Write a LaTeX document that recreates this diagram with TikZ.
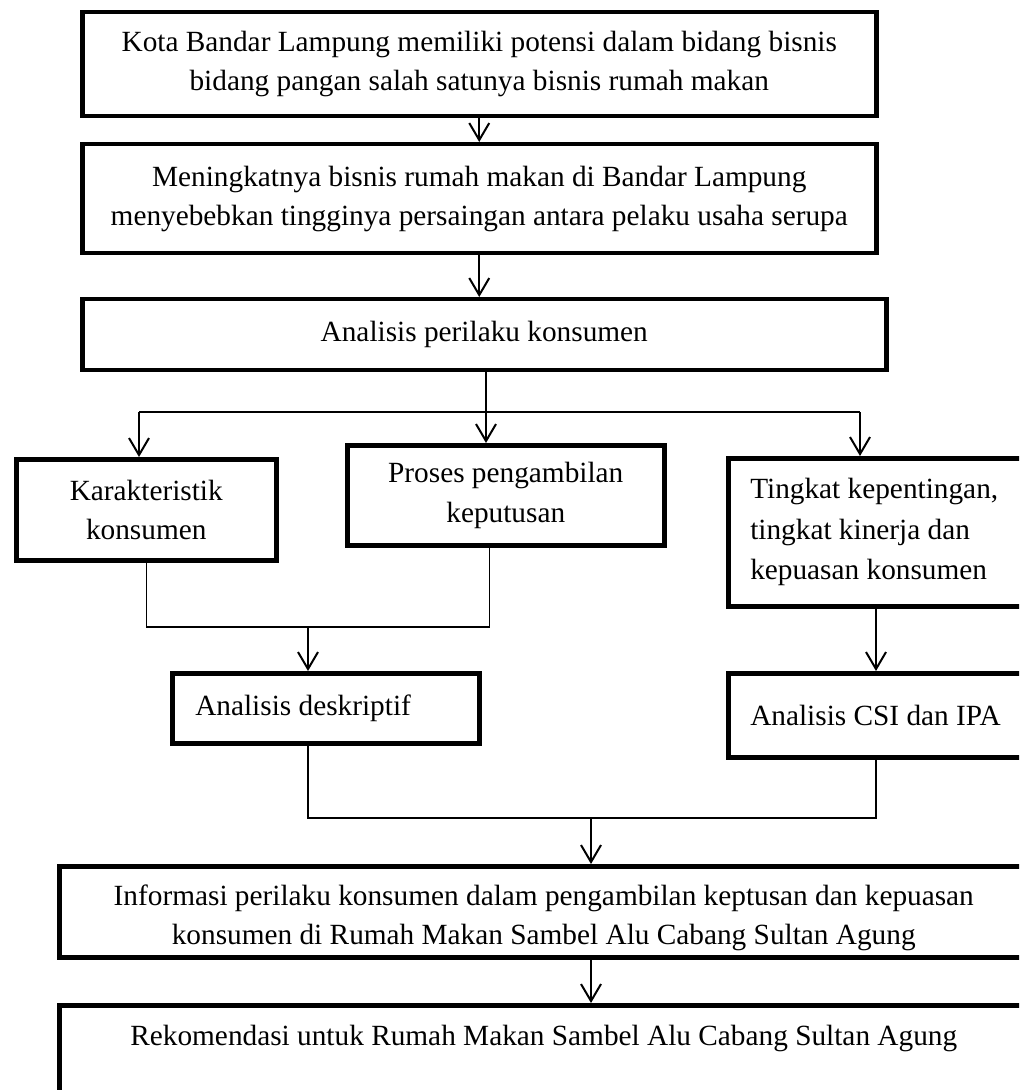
\documentclass[tikz,border=0pt]{standalone}
\usepackage{fontspec}
\setmainfont{Liberation Serif}
\usetikzlibrary{positioning,arrows.meta}

\begin{document}
\begin{tikzpicture}[
x=0.5pt, y=-0.5pt,
>={Straight Barb[length=8.5pt,width=10pt]},
kotak/.style={rectangle, draw=black, line width=2.25pt, anchor=north west, align=center, inner sep=0pt, font=\fontsize{14.65pt}{19.75pt}\selectfont},
kotakkiri/.style={kotak, align=flush left, inner xsep=11pt},
panah/.style={line width=1pt, ->},
garis/.style={line width=0.65pt}
]
\useasboundingbox (0,0) rectangle (1019,1090);
\clip (0,0) rectangle (1019,1090);

%Nodes
\node[kotak, minimum width=397pt, minimum height=52pt]		(kota)			at (80,10)		{Kota Bandar Lampung memiliki potensi dalam bidang bisnis\\ bidang pangan salah satunya bisnis rumah makan};
\node[kotak, minimum width=397pt, minimum height=54.5pt]	(bisnis)		at (80,142)		{Meningkatnya bisnis rumah makan di Bandar Lampung\\ menyebebkan tingginya persaingan antara pelaku usaha serupa};
\node[kotak, minimum width=402pt, minimum height=35.5pt]	(perilaku)		at (80,297)		{Analisis perilaku konsumen};
\node[kotak, minimum width=130pt, minimum height=50.5pt]	(karakteristik)	at (14,457)		{Karakteristik\\ konsumen};
\node[kotak, minimum width=158.5pt, minimum height=50pt]	(proses)		at (345,443)	{Proses pengambilan\\ keputusan};
\node[kotakkiri, text width=150pt, minimum height=74pt, font=\fontsize{14.65pt}{20.25pt}\selectfont]	(tingkat)	at (726,456)	{Tingkat kepentingan,\\ tingkat kinerja dan\\ kepuasan konsumen};
\node[kotakkiri, inner xsep=11.5pt, text width=130.5pt, minimum height=35pt]	(deskriptif)	at (170,671)	{Analisis deskriptif};
\node[kotakkiri, text width=150pt, minimum height=42pt]		(csi)			at (726,671)	{Analisis CSI dan IPA};
\node[kotak, align=flush center, text width=484.5pt, minimum height=45.5pt, text height=10pt, text depth=16.5pt]	(informasi)	at (57,864)	{Informasi perilaku konsumen dalam pengambilan keptusan dan kepuasan\\ konsumen di Rumah Makan Sambel Alu Cabang Sultan Agung};
\node[kotak, minimum width=484.5pt, text height=20pt, text depth=60pt]	(rekomendasi)	at (57,1003)	{Rekomendasi untuk Rumah Makan Sambel Alu Cabang Sultan Agung};

\coordinate (cabang)		at (486,412);
\coordinate (kiri)			at (139,412);
\coordinate (kanan)			at (860,412);
\coordinate (lurus)			at (876,630);
\coordinate (gabung)		at (308,627);
\coordinate (gabungbawah)	at (591,818);
\coordinate (prosesbawah)	at ([xshift=-8.25pt]proses.south);

%Lines
\draw[panah] (kota.south)						--					(bisnis.north);
\draw[panah] (bisnis.south)						--					(bisnis.south |- perilaku.north);
\draw[panah] (perilaku.south -| cabang)			--					(proses.north -| cabang);
\draw[garis] (kiri)								--					(kanan);
\draw[panah] (kiri)								--					(kiri |- karakteristik.north);
\draw[panah] (kanan)							--					(kanan |- tingkat.north);
\draw[garis] (karakteristik.south)				|-	(prosesbawah |- gabung)	--	(prosesbawah);
\draw[panah] (gabung)							--					(gabung |- deskriptif.north);
\draw[panah] (tingkat.south -| lurus)			--					(csi.north -| lurus);
\draw[garis] (deskriptif.south -| gabung)		|-	(lurus |- gabungbawah)	--	(csi.south -| lurus);
\draw[panah] (gabungbawah)						--					(gabungbawah |- informasi.north);
\draw[panah] (informasi.south -| gabungbawah)	--					(rekomendasi.north -| gabungbawah);

\end{tikzpicture}
\end{document}
